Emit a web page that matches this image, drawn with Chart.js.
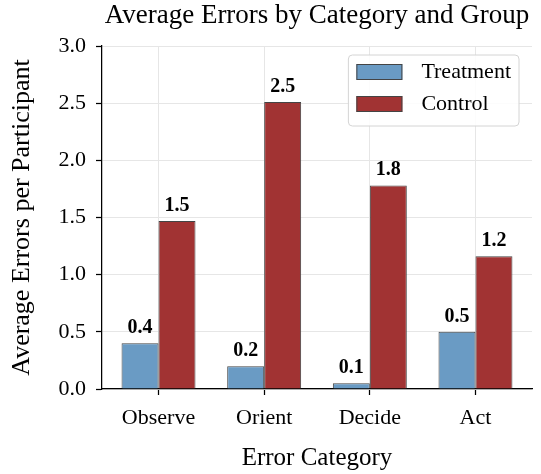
<!DOCTYPE html>
<html>
<head>
<meta charset="utf-8">
<script src="https://cdn.jsdelivr.net/npm/chart.js@4"></script>
<style>
html, body { margin: 0; padding: 0; background: #fff; }
#wrap { width: 541px; height: 474px; }
</style>
</head>
<body>
<div id="wrap"><canvas id="errorsChart"></canvas></div>
<script>
const categories = ['Observe', 'Orient', 'Decide', 'Act'];
const treatmentValues = [0.40, 0.20, 0.05, 0.50];
const controlValues = [1.47, 2.51, 1.78, 1.16];
const yTicks = [0, 0.5, 1.0, 1.5, 2.0, 2.5, 3.0];

const SERIF = '"Liberation Serif", "Times New Roman", serif';
const chartCanvas = document.getElementById('errorsChart');

// numbers above each bar
const valueLabels = {
    id: 'valueLabels',
    afterDatasetsDraw(chart) {
        const ctx = chart.ctx;
        ctx.save();
        ctx.font = 'bold 20px ' + SERIF;
        ctx.fillStyle = '#000';
        ctx.textAlign = 'center';
        ctx.textBaseline = 'alphabetic';
        chart.data.datasets.forEach((ds, i) => {
            chart.getDatasetMeta(i).data.forEach((bar, j) => {
                ctx.fillText(ds.data[j].y.toFixed(1), bar.x, bar.y - 10);
            });
        });
        ctx.restore();
    }
};

// legend box inside the plot, upper right
const boxLegend = {
    id: 'boxLegend',
    afterDraw(chart) {
        const ctx = chart.ctx;
        const area = chart.chartArea;
        ctx.save();
        ctx.font = '22px ' + SERIF;
        const textW = Math.max(...chart.data.datasets.map(ds => ctx.measureText(ds.label).width));
        const w = 8 + 46 + 19 + textW + 8;
        const h = 71;
        const x = area.right - 13 - w;
        const y = area.top + 9;
        ctx.beginPath();
        ctx.roundRect(x, y, w, h, 4);
        ctx.fillStyle = 'rgba(255,255,255,0.85)';
        ctx.fill();
        ctx.strokeStyle = '#d4d4d4';
        ctx.lineWidth = 1;
        ctx.stroke();
        chart.data.datasets.forEach((ds, i) => {
            const cy = y + 17 + i * 32;
            ctx.fillStyle = ds.backgroundColor;
            ctx.fillRect(x + 8, cy - 8, 46, 16);
            ctx.strokeStyle = '#444';
            ctx.strokeRect(x + 8.5, cy - 7.5, 45, 15);
            ctx.fillStyle = '#000';
            ctx.textAlign = 'left';
            ctx.textBaseline = 'middle';
            ctx.fillText(ds.label, x + 8 + 46 + 19, cy);
        });
        ctx.restore();
    }
};

new Chart(chartCanvas, {
    type: 'bar',
    data: {
        datasets: [{
            label: 'Treatment',
            data: treatmentValues.map((v, i) => ({ x: i, y: v })),
            backgroundColor: '#6a9bc4',
            borderColor: '#444',
            borderWidth: 1
        }, {
            label: 'Control',
            data: controlValues.map((v, i) => ({ x: i, y: v })),
            backgroundColor: '#a13333',
            borderColor: '#444',
            borderWidth: 1
        }]
    },
    options: {
        responsive: true,
        maintainAspectRatio: false,
        animation: false,
        categoryPercentage: 0.7,
        barPercentage: 1.0,
        layout: { padding: { left: 0, right: 9, top: 0, bottom: 0 } },
        plugins: {
            legend: { display: false },
            tooltip: { enabled: false },
            title: {
                display: true,
                text: 'Average Errors by Category and Group',
                fullSize: false,
                color: '#000',
                font: { family: SERIF, size: 27, weight: 'normal' },
                padding: { top: 0, bottom: 13.6 }
            }
        },
        scales: {
            x: {
                type: 'linear',
                min: -0.535,
                max: 3.535,
                offset: false,
                afterBuildTicks: s => { s.ticks = categories.map((c, i) => ({ value: i })); },
                afterFit: s => { s.height = 85; },
                ticks: {
                    callback: v => categories[v],
                    color: '#000',
                    font: { family: SERIF, size: 22 },
                    padding: 10,
                    maxRotation: 0,
                    autoSkip: false
                },
                grid: { offset: false, color: '#e6e6e6', lineWidth: 1, tickLength: 6, tickColor: '#000', tickWidth: 1.25 },
                border: { color: '#000', width: 1.25 },
                title: {
                    display: true,
                    text: 'Error Category',
                    color: '#000',
                    font: { family: SERIF, size: 25 },
                    padding: { top: 0, bottom: 1 }
                }
            },
            y: {
                min: 0,
                max: 3,
                afterBuildTicks: s => { s.ticks = yTicks.map(v => ({ value: v })); },
                afterFit: s => { s.width = 102; },
                ticks: {
                    callback: v => v.toFixed(1),
                    color: '#000',
                    font: { family: SERIF, size: 22 },
                    padding: 10
                },
                grid: { color: '#e6e6e6', lineWidth: 1, tickLength: 6, tickColor: '#000', tickWidth: 1.25 },
                border: { color: '#000', width: 1.25 },
                title: {
                    display: true,
                    text: 'Average Errors per Participant',
                    color: '#000',
                    font: { family: SERIF, size: 26 },
                    padding: { top: 7, bottom: 0 }
                }
            }
        }
    },
    plugins: [valueLabels, boxLegend]
});
</script>
</body>
</html>
